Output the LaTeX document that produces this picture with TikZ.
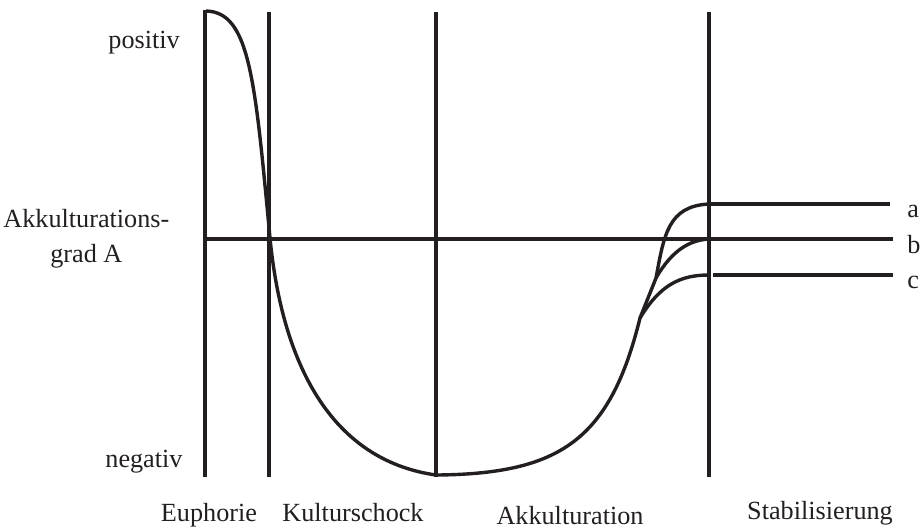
\documentclass[tikz,border=0pt]{standalone}
\usepackage{fontspec}
\setmainfont{Liberation Serif}
\definecolor{ink}{RGB}{35,31,32}
\begin{document}
\begin{tikzpicture}[x=0.5pt,y=-0.5pt,
  axisline/.style={line width=1.7pt,draw=ink},
  curveline/.style={line width=1.7pt,draw=ink},
  lbl/.style={inner sep=0pt,text=ink,font=\fontsize{13.1}{15.7}\selectfont}]
\useasboundingbox (0,0) rectangle (924,527);
% coordinates
\coordinate (v1t) at (205,10);  \coordinate (v1b) at (205,477);
\coordinate (v2t) at (269,12);  \coordinate (v2b) at (269,477);
\coordinate (v3t) at (436,12);  \coordinate (v3b) at (436,477);
\coordinate (v4t) at (709,12);  \coordinate (v4b) at (709,477);
\coordinate (hbL) at (205,239); \coordinate (hbR) at (893,239);
\coordinate (haL) at (709,204); \coordinate (haR) at (890,204);
\coordinate (hcL) at (713,275); \coordinate (hcR) at (893,275);
\coordinate (start) at (206,11);
\coordinate (cross) at (270,238);
\coordinate (low) at (436,475);
\coordinate (brc) at (640,318);
\coordinate (brb) at (656,278);
\coordinate (ea) at (709,204);
\coordinate (eb) at (709,239);
\coordinate (ec) at (709,275);
% axes
\draw[axisline] (v1t) -- (v1b);
\draw[axisline] (v2t) -- (v2b);
\draw[axisline] (v3t) -- (v3b);
\draw[axisline] (v4t) -- (v4b);
\draw[axisline] (hbL) -- (hbR);
\draw[axisline] (haL) -- (haR);
\draw[axisline] (hcL) -- (hcR);
% curve
\draw[curveline,line join=miter] (start) .. controls (250,12) and (255,80) .. (cross)
  .. controls (282,362) and (330,460) .. (low)
  .. controls (560,474) and (610,440) .. (brc) -- (brb)
  .. controls (664,235) and (668,206) .. (ea);
\draw[curveline] (brc) .. controls (660,285) and (680,275) .. (ec);
\draw[curveline] (brb) .. controls (672,250) and (690,240) .. (eb);
% labels
\node[lbl,anchor=base west] (pos) at (108,48) {positiv};
\node[lbl,anchor=base west] (neg) at (105,467) {negativ};
\node[lbl,anchor=base west] (akg1) at (3,227) {Akkulturations-};
\node[lbl,anchor=base] (akg2) at (akg1.base |- 0,262) {grad A};
\node[lbl,anchor=base] (eu) at (209,521) {Euphorie};
\node[lbl,anchor=base] (ks) at (353,521) {Kulturschock};
\node[lbl,anchor=base] (ak) at (570,524) {Akkulturation};
\node[lbl,anchor=base] (st) at (820,519) {Stabilisierung};
\node[lbl,anchor=base west] (la) at (907,217) {a};
\node[lbl,anchor=base west] (lb) at (907,253) {b};
\node[lbl,anchor=base west] (lc) at (907,288) {c};
\end{tikzpicture}
\end{document}
